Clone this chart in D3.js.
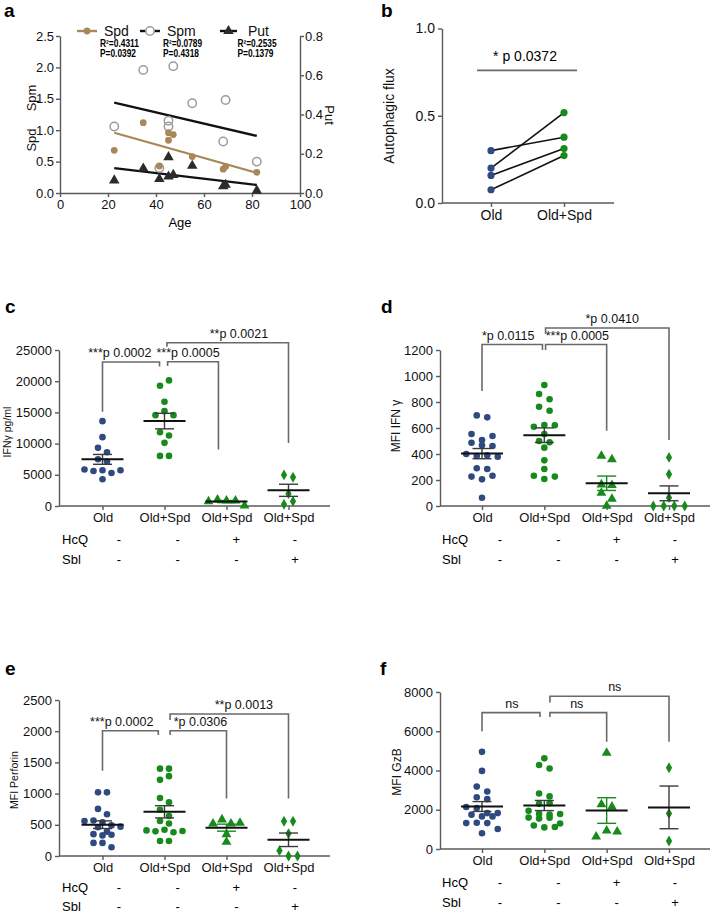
<!DOCTYPE html>
<html><head><meta charset="utf-8">
<script src="https://cdn.jsdelivr.net/npm/d3@7"></script>
<style>body{margin:0;background:#fff}svg{display:block;font-family:"Liberation Sans",Arial,Helvetica,sans-serif}</style>
</head><body><svg id="fig" width="712" height="915"></svg>
<script>
// ---------- Panel a data ----------
const ages = [22.6, 34.7, 41.4, 45.2, 45.2, 47.2, 55.1, 68, 69, 82];
const spdLevels = [0.68, 1.12, 0.43, 0.96, 0.84, 0.93, 0.58, 0.38, 0.42, 0.33];
const spmLevels = [1.06, 1.96, 0.40, 1.15, 1.06, 2.02, 1.43, 0.82, 1.48, 0.50];
const putLevels = [0.064, 0.125, 0.071, 0.183, 0.084, 0.092, 0.139, 0.034, 0.042, 0.012];
const fitAges = [22.6, 82];
const spdFit = [0.96, 0.32];
const spmFit = [1.44, 0.91];
const putFit = [0.127, 0.041];
const polyNames = ["Spd", "Spm", "Put"];
const polyR2 = ["R²=0.4311", "R²=0.0789", "R²=0.2535"];
const polyP = ["P=0.0392", "P=0.4318", "P=0.1379"];
const ageTicks = [0, 20, 40, 60, 80, 100];
const leftTicksA = [0, 0.5, 1.0, 1.5, 2.0, 2.5];
const rightTicksA = [0, 0.2, 0.4, 0.6, 0.8];

// ---------- Panel b data ----------
const fluxGroups = ["Old", "Old+Spd"];
const fluxOld = [0.30, 0.20, 0.158, 0.076];
const fluxSpd = [0.377, 0.518, 0.312, 0.272];
const fluxTicks = [0, 0.5, 1.0];
const fluxSig = "* p 0.0372";
const fluxSigLevel = 0.76;

// ---------- Panels c-f shared ----------
const groups = ["Old", "Old+Spd", "Old+Spd", "Old+Spd"];
const hcqSigns = ["-", "-", "+", "-"];
const sblSigns = ["-", "-", "-", "+"];

// c: IFNγ pg/ml
const ifngOld = [13600, 11030, 9320, 8620, 7500, 7120, 5840, 5620, 5730, 5300, 5730, 4280];
const ifngSpd = [19270, 20130, 16700, 14560, 15200, 14560, 11830, 11300, 10120, 8030, 8030];
const ifngHcq = [750, 1020, 860, 860, 60];
const ifngSbl = [4980, 4600, 1980, 270, 750];
const ifngTicks = [0, 5000, 10000, 15000, 20000, 25000];
const ifngBrackets = [
  {from: 0, to: 0.92, top: 23070, fromEnd: 15090, toEnd: 22350, label: "***p 0.0002", at: 0.28},
  {from: 1.05, to: 1.87, top: 23120, fromEnd: 22430, toEnd: 9060, label: "***p 0.0005", at: 1.38},
  {from: 1.04, to: 3, top: 26170, fromEnd: 25530, toEnd: 10110, label: "**p 0.0021", at: 2.2}
];

// d: MFI IFN γ
const mfiIfnOld = [697, 682, 554, 508, 538, 487, 467, 462, 400, 385, 390, 379, 290, 285, 226, 205, 233, 64];
const mfiIfnSpd = [931, 862, 821, 764, 733, 610, 623, 621, 554, 500, 490, 449, 351, 285, 233, 208, 226];
const mfiIfnHcq = [385, 359, 165, 160, 100, 55, 0];
const mfiIfnSbl = [374, 244, 64, 0, 0, 0, 0];
const mfiIfnTicks = [0, 200, 400, 600, 800, 1000, 1200];
const mfiIfnBrackets = [
  {from: 0, to: 0.97, top: 1242, fromEnd: 885, toEnd: 1200, label: "*p 0.0115", at: 0.42},
  {from: 1.02, to: 2, top: 1242, fromEnd: 1200, toEnd: 579, label: "***p 0.0005", at: 1.53},
  {from: 1.02, to: 3, top: 1369, fromEnd: 1323, toEnd: 508, label: "*p 0.0410", at: 2.09}
];

// e: MFI Perforin
const perfOld = [1020, 1020, 755, 670, 560, 570, 540, 490, 470, 460, 390, 350, 330, 340, 210, 210, 140];
const perfSpd = [1400, 1400, 1220, 1280, 930, 860, 740, 640, 560, 520, 410, 395, 420, 380, 400, 240, 240];
const perfHcq = [519, 584, 519, 530, 348, 225];
const perfSbl = [557, 557, 359, 86, 0, 0];
const perfTicks = [0, 500, 1000, 1500, 2000, 2500];
const perfBrackets = [
  {from: 0, to: 0.9, top: 2007, fromEnd: 1365, toEnd: 1938, label: "***p 0.0002", at: 0.31},
  {from: 1.09, to: 2, top: 2007, fromEnd: 1938, toEnd: 922, label: "*p 0.0306", at: 1.58},
  {from: 1.09, to: 3, top: 2275, fromEnd: 2179, toEnd: 922, label: "**p 0.0013", at: 2.28}
];

// f: MFI GzB
const gzbOld = [4950, 3980, 3180, 2930, 2640, 2540, 2140, 2090, 1830, 1750, 1660, 1660, 1830, 1320, 1340, 1320, 1020, 800];
const gzbSpd = [4620, 4280, 4100, 2830, 2680, 2300, 2330, 1950, 1800, 1750, 1780, 1600, 1550, 1590, 1300, 1200, 1100, 1120];
const gzbHcq = [4900, 2270, 2150, 630, 930, 880];
const gzbSbl = [4140, 1810, 410];
const gzbTicks = [0, 2000, 4000, 6000, 8000];
const gzbBrackets = [
  {from: 0, to: 0.93, top: 6950, fromEnd: 6000, toEnd: 6730, label: "ns", at: 0.48},
  {from: 1.09, to: 2, top: 6950, fromEnd: 6730, toEnd: 5460, label: "ns", at: 1.52},
  {from: 1.09, to: 3, top: 7780, fromEnd: 7460, toEnd: 5460, label: "ns", at: 2.13}
];

// ---------- styling ----------
const BLUE = "#2f4a80", GREEN = "#188a1c", BROWN = "#a8875a", GREYC = "#9b9b9b";
const AXIS = "#5a5a5a", BRK = "#6a6a6a";
const svg = d3.select("#fig");

function styleAxis(g, fs) {
  g.selectAll("path.domain").attr("stroke", AXIS).attr("stroke-width", 1.4);
  g.selectAll(".tick line").attr("stroke", AXIS).attr("stroke-width", 1.4);
  g.selectAll(".tick text").attr("fill", "#111").style("font-size", fs + "px");
  g.attr("font-family", null);
}
function panelLetter(t, x, y) {
  svg.append("text").attr("x", x).attr("y", y).attr("font-weight", "bold").attr("font-size", 19).text(t);
}
function rotLabel(t, x, y, fs, ang) {
  svg.append("text").attr("transform", `translate(${x},${y}) rotate(${ang || -90})`)
    .attr("text-anchor", "middle").attr("font-size", fs).attr("fill", "#111").text(t);
}

// ================= Panel a =================
(function () {
  const x = d3.scaleLinear([0, 100], [60, 300]);
  const yL = d3.scaleLinear([0, 2.5], [193, 36]);
  const yR = d3.scaleLinear([0, 0.8], [193, 36]);
  const g = svg.append("g");
  const ax = g.append("g").attr("transform", "translate(0,193)")
    .call(d3.axisBottom(x).tickValues(ageTicks).tickSize(4).tickSizeOuter(0));
  styleAxis(ax, 13);
  const al = g.append("g").attr("transform", "translate(60,0)")
    .call(d3.axisLeft(yL).tickValues(leftTicksA).tickFormat(d3.format(".1f")).tickSize(4).tickPadding(2).tickSizeOuter(0));
  styleAxis(al, 13);
  const ar = g.append("g").attr("transform", "translate(300,0)")
    .call(d3.axisRight(yR).tickValues(rightTicksA).tickFormat(d3.format(".1f")).tickSize(4).tickPadding(1).tickSizeOuter(0));
  styleAxis(ar, 13);

  const line = d3.line();
  g.append("path").attr("d", line(fitAges.map((a, i) => [x(a), yL(spmFit[i])])))
    .attr("stroke", "#111").attr("stroke-width", 2.4).attr("fill", "none");
  g.append("path").attr("d", line(fitAges.map((a, i) => [x(a), yR(putFit[i])])))
    .attr("stroke", "#111").attr("stroke-width", 2.4).attr("fill", "none");
  g.append("path").attr("d", line(fitAges.map((a, i) => [x(a), yL(spdFit[i])])))
    .attr("stroke", BROWN).attr("stroke-width", 2.2).attr("fill", "none");

  const tri = d3.symbol().type(d3.symbolTriangle).size(48);
  g.selectAll(".spm").data(ages).join("circle")
    .attr("cx", d => x(d)).attr("cy", (d, i) => yL(spmLevels[i])).attr("r", 4.2)
    .attr("fill", "none").attr("stroke", GREYC).attr("stroke-width", 1.5);
  g.selectAll(".put").data(ages).join("path")
    .attr("d", tri).attr("transform", (d, i) => `translate(${x(d)},${yR(putLevels[i])})`)
    .attr("fill", "#2b2b2b");
  g.selectAll(".spd").data(ages).join("circle")
    .attr("cx", d => x(d)).attr("cy", (d, i) => yL(spdLevels[i])).attr("r", 3.4)
    .attr("fill", BROWN);

  const lg = [[77, 97, 87, 104], [140, 160, 150, 167], [220, 237, 228.5, 248]];
  const ly = 31;
  lg.forEach((p, i) => {
    g.append("line").attr("x1", p[0]).attr("x2", p[1]).attr("y1", ly).attr("y2", ly)
      .attr("stroke", i === 0 ? BROWN : "#111").attr("stroke-width", 2.4);
    if (i === 0) g.append("circle").attr("cx", p[2]).attr("cy", ly).attr("r", 3.4).attr("fill", BROWN);
    if (i === 1) g.append("circle").attr("cx", p[2]).attr("cy", ly).attr("r", 4.2).attr("fill", "#fff").attr("stroke", GREYC).attr("stroke-width", 1.5);
    if (i === 2) g.append("path").attr("d", tri).attr("transform", `translate(${p[2]},${ly})`).attr("fill", "#2b2b2b");
    g.append("text").attr("x", p[3]).attr("y", ly + 5).attr("font-size", 14).attr("fill", "#111").text(polyNames[i]);
  });
  const sx = [100, 163, 237.5];
  sx.forEach((xx, i) => {
    g.append("text").attr("x", xx).attr("y", 46.5).attr("font-size", 10).attr("font-weight", "bold")
      .attr("textLength", 39).attr("lengthAdjust", "spacingAndGlyphs").text(polyR2[i]);
    g.append("text").attr("x", xx).attr("y", 56.5).attr("font-size", 10).attr("font-weight", "bold")
      .attr("textLength", 36).attr("lengthAdjust", "spacingAndGlyphs").text(polyP[i]);
  });
  rotLabel("Spm", 36, 98, 13);
  rotLabel("Spd", 36, 140, 13);
  rotLabel("Put", 325, 115, 13, 90);
  g.append("text").attr("x", 180).attr("y", 227).attr("text-anchor", "middle").attr("font-size", 13).text("Age");
  panelLetter("a", 4, 17);
})();

// ================= Panel b =================
(function () {
  const y = d3.scaleLinear([0, 1], [203, 28.5]);
  const x = d3.scalePoint(fluxGroups, [491, 564]);
  const g = svg.append("g");
  const al = g.append("g").attr("transform", "translate(442,0)")
    .call(d3.axisLeft(y).tickValues(fluxTicks).tickFormat(d3.format(".1f")).tickSize(4).tickPadding(3).tickSizeOuter(0));
  styleAxis(al, 14);
  const ab = g.append("g").attr("transform", "translate(0,203)")
    .call(d3.axisBottom(x).tickSize(4).tickSizeOuter(0));
  ab.select("path.domain").remove();
  styleAxis(ab, 14);
  g.append("line").attr("x1", 442).attr("x2", 614).attr("y1", 203).attr("y2", 203).attr("stroke", AXIS).attr("stroke-width", 1.4);
  fluxOld.forEach((v, i) => {
    g.append("line").attr("x1", x("Old")).attr("y1", y(v)).attr("x2", x("Old+Spd")).attr("y2", y(fluxSpd[i]))
      .attr("stroke", "#111").attr("stroke-width", 1.6);
  });
  g.selectAll(".bo").data(fluxOld).join("circle").attr("cx", x("Old")).attr("cy", d => y(d)).attr("r", 3.6).attr("fill", BLUE);
  g.selectAll(".bs").data(fluxSpd).join("circle").attr("cx", x("Old+Spd")).attr("cy", d => y(d)).attr("r", 3.6).attr("fill", GREEN);
  g.append("line").attr("x1", 477).attr("x2", 577).attr("y1", y(fluxSigLevel)).attr("y2", y(fluxSigLevel))
    .attr("stroke", BRK).attr("stroke-width", 1.8);
  g.append("text").attr("x", 525).attr("y", y(fluxSigLevel) - 9).attr("text-anchor", "middle").attr("font-size", 14).text(fluxSig);
  rotLabel("Autophagic flux", 394, 116, 14);
  panelLetter("b", 381, 17);
})();

// ================= Dot panels c-f =================
function swarm(values, y, step, binPx) {
  const idx = d3.range(values.length).sort((a, b) => values[b] - values[a]);
  const bins = []; let cur = null;
  idx.forEach(i => {
    const py = y(values[i]);
    if (cur && py - cur.start < binPx) cur.items.push(i);
    else { cur = {start: py, items: [i]}; bins.push(cur); }
  });
  const off = new Array(values.length);
  bins.forEach(b => {
    b.items.sort((a, c) => a - c);
    const n = b.items.length;
    b.items.forEach((i, k) => off[i] = (k - (n - 1) / 2) * step);
  });
  return off;
}

function dotPanel(cfg, series, ticks, brackets) {
  const g = svg.append("g");
  const y = d3.scaleLinear([0, ticks[ticks.length - 1]], [cfg.yBottom, cfg.yTop]);
  const x = d3.scaleLinear([0, 3], cfg.catRange);
  const sx = d3.scaleLinear([0, 3], cfg.signRange);

  const al = g.append("g").attr("transform", `translate(${cfg.x0},0)`)
    .call(d3.axisLeft(y).tickValues(ticks).tickFormat(d3.format("d")).tickSize(4).tickPadding(3).tickSizeOuter(0));
  styleAxis(al, 13);
  const ab = g.append("g").attr("transform", `translate(0,${cfg.yBottom})`)
    .call(d3.axisBottom(x).tickValues([0, 1, 2, 3]).tickFormat(i => groups[i]).tickSize(4).tickSizeOuter(0));
  ab.select("path.domain").remove();
  styleAxis(ab, 13);
  g.append("line").attr("x1", cfg.x0).attr("x2", cfg.xEnd).attr("y1", cfg.yBottom).attr("y2", cfg.yBottom)
    .attr("stroke", AXIS).attr("stroke-width", 1.4);

  [["HcQ", hcqSigns, cfg.hcqY], ["Sbl", sblSigns, cfg.sblY]].forEach(r => {
    g.append("text").attr("x", cfg.rowX).attr("y", r[2]).attr("font-size", 13).text(r[0]);
    r[1].forEach((s, i) => g.append("text").attr("x", sx(i)).attr("y", r[2]).attr("text-anchor", "middle")
      .attr("font-size", 13).text(s));
  });

  brackets.forEach(b => {
    const p = d3.path();
    p.moveTo(x(b.from), y(b.fromEnd)); p.lineTo(x(b.from), y(b.top));
    p.lineTo(x(b.to), y(b.top)); p.lineTo(x(b.to), y(b.toEnd));
    g.append("path").attr("d", p.toString()).attr("fill", "none").attr("stroke", BRK).attr("stroke-width", 1.6);
    g.append("text").attr("x", x(b.at)).attr("y", y(b.top) - 5).attr("text-anchor", "middle")
      .attr("font-size", 12.5).attr("fill", "#111").text(b.label);
  });

  const tri = d3.symbol().type(d3.symbolTriangle).size(42);
  const dia = d3.symbol().type(d3.symbolDiamond).size(34);
  series.forEach((vals, gi) => {
    const off = swarm(vals, y, cfg.step, 6.5);
    const col = gi === 0 ? BLUE : GREEN;
    vals.forEach((v, i) => {
      const cx = x(gi) + off[i], cy = y(v);
      if (gi < 2) g.append("circle").attr("cx", cx).attr("cy", cy).attr("r", 3.3).attr("fill", col);
      else g.append("path").attr("d", gi === 2 ? tri : dia).attr("transform", `translate(${cx},${cy})`).attr("fill", col);
    });
    const m = d3.mean(vals), sem = d3.deviation(vals) / Math.sqrt(vals.length);
    const semCol = gi === 2 ? GREEN : "#3a3a3a";
    const cx = x(gi);
    g.append("line").attr("x1", cx).attr("x2", cx).attr("y1", y(m - sem)).attr("y2", y(m + sem)).attr("stroke", semCol).attr("stroke-width", 1.4);
    [m - sem, m + sem].forEach(v => g.append("line").attr("x1", cx - 9.5).attr("x2", cx + 9.5).attr("y1", y(v)).attr("y2", y(v))
      .attr("stroke", semCol).attr("stroke-width", 1.4));
    g.append("line").attr("x1", cx - 21).attr("x2", cx + 21).attr("y1", y(m)).attr("y2", y(m)).attr("stroke", "#111").attr("stroke-width", 2);
  });

  rotLabel(cfg.ylabel, cfg.ylx, cfg.yly, cfg.ylfs);
  panelLetter(cfg.letter, cfg.lx, cfg.ly);
}

const leftCol = {x0: 59, xEnd: 330, catRange: [102.5, 288.5], signRange: [119, 295], rowX: 62, step: 9};
const rightCol = {x0: 440, xEnd: 710, catRange: [482, 669], signRange: [500, 675], rowX: 442, step: 10.5};

dotPanel(Object.assign({}, leftCol, {yTop: 350, yBottom: 506, hcqY: 543.5, sblY: 564, ylabel: "IFNγ pg/ml", ylx: 11, yly: 432, ylfs: 10.5, letter: "c", lx: 5, ly: 313}),
  [ifngOld, ifngSpd, ifngHcq, ifngSbl], ifngTicks, ifngBrackets);
dotPanel(Object.assign({}, rightCol, {yTop: 350, yBottom: 506, hcqY: 543.5, sblY: 564, ylabel: "MFI IFN γ", ylx: 400, yly: 426, ylfs: 12, letter: "d", lx: 381, ly: 313}),
  [mfiIfnOld, mfiIfnSpd, mfiIfnHcq, mfiIfnSbl], mfiIfnTicks, mfiIfnBrackets);
dotPanel(Object.assign({}, leftCol, {yTop: 700, yBottom: 856, hcqY: 892, sblY: 911, ylabel: "MFI Perforin", ylx: 18, yly: 780, ylfs: 10.5, letter: "e", lx: 5, ly: 675}),
  [perfOld, perfSpd, perfHcq, perfSbl], perfTicks, perfBrackets);
dotPanel(Object.assign({}, rightCol, {yTop: 692, yBottom: 849, hcqY: 887, sblY: 907, ylabel: "MFI GzB", ylx: 401, yly: 772, ylfs: 12, letter: "f", lx: 380, ly: 675}),
  [gzbOld, gzbSpd, gzbHcq, gzbSbl], gzbTicks, gzbBrackets);
</script></body></html>
